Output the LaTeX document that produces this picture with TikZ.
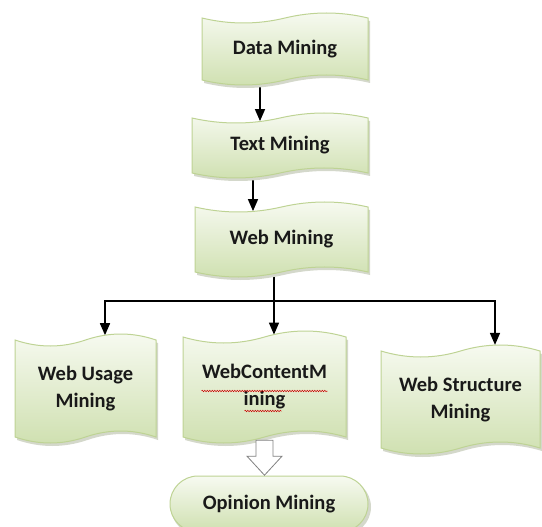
\documentclass[tikz,border=0pt]{standalone}
\usepackage{fontspec}
\setmainfont{Carlito}
\usetikzlibrary{arrows.meta,backgrounds,decorations.pathmorphing}

\definecolor{tapetop}{RGB}{247,250,241}
\definecolor{tapebot}{RGB}{207,224,176}
\definecolor{tapeline}{RGB}{190,211,148}
\definecolor{tapeshade}{RGB}{212,216,203}

% punched tape box: name, left, right, top, bottom, wave, text
\newcommand\tape[7]{%
  \pgfmathsetmacro\tw{(#3-#2)/6}
  \pgfmathsetmacro\ta{4*#6/3}
  \fill[tapeshade,xshift=2pt,yshift=-3pt] (#2,#4) .. controls +(\tw,\ta) and +(-\tw,\ta) .. ({#2+3*\tw},#4)
    .. controls +(\tw,-\ta) and +(-\tw,-\ta) .. (#3,#4) -- (#3,#5)
    .. controls +(-\tw,-\ta) and +(\tw,-\ta) .. ({#2+3*\tw},#5)
    .. controls +(-\tw,\ta) and +(\tw,\ta) .. (#2,#5) -- cycle;
  \path[TapeStyle] (#2,#4) .. controls +(\tw,\ta) and +(-\tw,\ta) .. ({#2+3*\tw},#4)
    .. controls +(\tw,-\ta) and +(-\tw,-\ta) .. (#3,#4) -- (#3,#5)
    .. controls +(-\tw,-\ta) and +(\tw,-\ta) .. ({#2+3*\tw},#5)
    .. controls +(-\tw,\ta) and +(\tw,\ta) .. (#2,#5) -- cycle;
  \node[TextStyle,minimum width={#3-#2},minimum height={#5-#4}] (#1)
    at ({(#2+#3)/2},{(#4+#5)/2}) {#7};
}

\begin{document}
\begin{tikzpicture}[x=1pt,y=-1pt,>={Triangle[length=12pt,width=10pt]}]
  \tikzstyle{TapeStyle}=[draw=tapeline,line width=1pt,top color=tapetop,bottom color=tapebot]
  \tikzstyle{TextStyle}=[align=center,inner sep=0pt,text=black!90,
    font=\bfseries\fontsize{20.5}{27}\selectfont]
  \tikzstyle{EdgeStyle}=[->,line width=1.5pt]
  \tikzstyle{SpellStyle}=[red!80!black,line width=0.5pt,decorate,
    decoration={snake,amplitude=0.7pt,segment length=2.5pt}]
  \useasboundingbox (0,0) rectangle (542,527);

  \tape{dm}{202}{368}{18}{80}{5}{Data Mining}
  \tape{tm}{192}{368}{118}{173}{5}{Text Mining}
  \tape{wm}{195}{368}{207}{272}{5}{Web Mining}
  \tape{wu}{15}{156}{340}{437}{6}{Web Usage\\Mining}
  \tape{wc}{183}{346}{337}{437}{6}{WebContentM\\ining}
  \tape{ws}{381}{540}{351}{448}{6}{Web Structure\\Mining}

  % spell check squiggles
  \draw[SpellStyle] ([xshift=-63pt,yshift=-4pt]wc.center) -- ++(126,0);
  \draw[SpellStyle] ([xshift=-20pt,yshift=-24pt]wc.center) -- ++(37,0);

  \fill[tapeshade,rounded corners=28pt] (171,479) rectangle (371,535);
  \node[TextStyle,draw=tapeline,line width=1pt,rounded corners=28pt,
    top color=tapetop,bottom color=tapebot,
    minimum width=198pt,minimum height=56pt] (op) at (269,504) {Opinion Mining};

  % hollow arrow to opinion mining
  \draw[draw=black!50,fill=white,line width=0.8pt] ([yshift=-3pt]wc.south) ++(-8.5,0)
    -- ++(0,16) -- ++(-9,0) -- ++(17.5,19) -- ++(17.5,-19) -- ++(-9,0) -- ++(0,-16) -- cycle;

  \begin{pgfonlayer}{background}
    \coordinate (split) at (274,301);
    \draw[EdgeStyle] ([xshift=-25pt]dm.south) -- ([xshift=-20pt,yshift=-3.3pt]tm.north);
    \draw[EdgeStyle] ([xshift=-27pt]tm.south) -- ([xshift=-28.5pt,yshift=-4.3pt]wm.north);
    \draw[line width=1.5pt] ([xshift=-7.5pt]wm.south) -- (split);
    \draw[EdgeStyle] (split) -| ([xshift=19.5pt,yshift=4.6pt]wu.north);
    \draw[EdgeStyle] (split) -- ([xshift=9.5pt,yshift=2.2pt]wc.north);
    \draw[EdgeStyle] (split) -| ([xshift=34.5pt,yshift=5.9pt]ws.north);
  \end{pgfonlayer}
\end{tikzpicture}
\end{document}
